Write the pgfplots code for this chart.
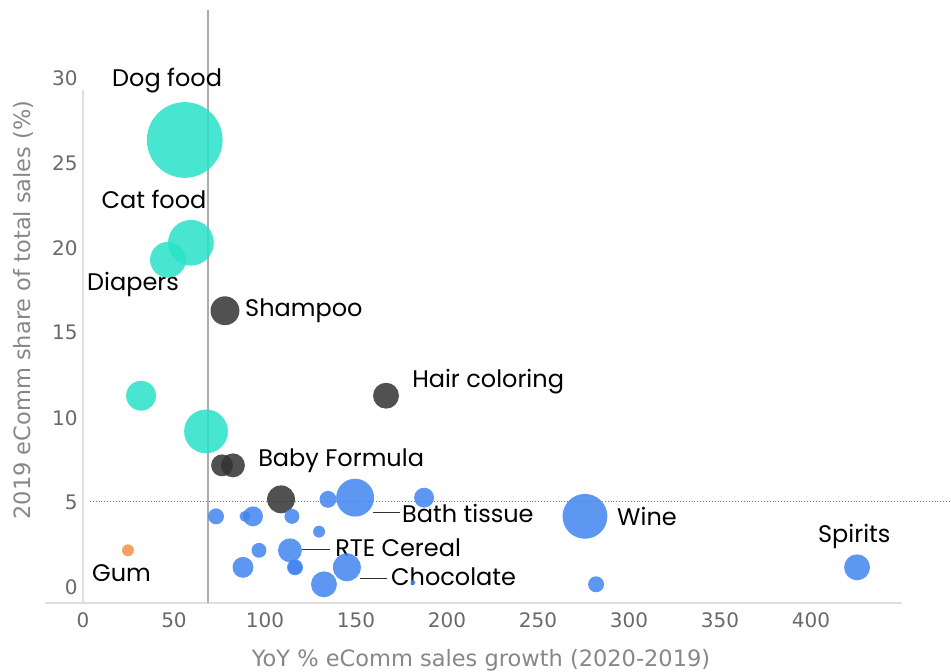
\documentclass[border=0pt]{standalone}
\usepackage{pgfplots}
\pgfplotsset{compat=1.18}
\usepackage{fontspec}
\setmainfont{Poppins}
\newfontfamily\tickfont{DejaVu Sans}

\definecolor{tealc}{RGB}{40,226,200}
\definecolor{bluec}{RGB}{66,133,240}
\definecolor{darkc}{RGB}{50,50,50}
\definecolor{orangec}{RGB}{245,150,80}
\definecolor{tickgray}{RGB}{105,105,105}
\definecolor{labgray}{RGB}{135,135,135}
\definecolor{axgray}{RGB}{222,222,222}

% x, y, bubble radius (bp)
\pgfplotstableread{
x y r
55.9 26.35 38
59.3 20.3 23
46.7 19.3 18
31.9 11.3 15
67.6 9.2 22
}\petfood
\pgfplotstableread{
x y r
78.0 16.3 14.5
166.5 11.3 13
76.4 7.2 11
82.4 7.2 12
108.8 5.2 14
}\beauty
\pgfplotstableread{
x y r
73.1 4.2 8
89.0 4.2 5.5
93.4 4.2 10
114.8 4.2 7.5
134.6 5.2 8.5
149.5 5.3 19
187.4 5.3 10
129.7 3.3 6
96.7 2.2 7.5
113.7 2.2 12
87.9 1.2 10.5
116.5 1.2 8
116.5 1.2 7
145.0 1.2 14
132.4 0.2 13
181.3 0.3 2.5
275.8 4.2 22.5
281.9 0.2 8
425.3 1.2 13
}\grocery
\pgfplotstableread{
x y r
24.7 2.2 6
}\gum

\pgfplotsset{
  bubble/.style 2 args={scatter, only marks, mark=*,
    visualization depends on={\thisrow{r}\as\rad},
    mark options={fill opacity=#2, draw opacity=0},
    scatter/use mapped color={draw=#1, fill=#1, fill opacity=#2, draw opacity=0},
    scatter/@pre marker code/.append style={/tikz/mark size=\rad}},
}

\begin{document}
\begin{tikzpicture}
\useasboundingbox (-83bp,-69bp) rectangle (868bp,603bp);
\begin{axis}[
  at={(0,0)}, anchor=south west,
  scale only axis, width=819bp, height=593bp,
  xmin=0, xmax=450, ymin=-0.9, ymax=34,
  axis line style={draw=none},
  major tick length=0,
  xtick={0,50,...,400}, ytick={0,5,...,30},
  ticklabel style={font=\tickfont\fontsize{20bp}{24bp}\selectfont, text=tickgray},
  /pgf/number format/assume math mode=true,
  xticklabel style={yshift=-6bp},
  yticklabel style={xshift=-2bp},
  clip=false,
]
% frame lines and reference lines
\draw[axgray, line width=1.2bp] (axis cs:-20.9,-0.9) -- (axis cs:450,-0.9);
\draw[axgray, line width=1.2bp] (axis cs:0,-0.9) -- (axis cs:0,29.3);
\draw[gray!65, line width=1.3bp] (axis cs:68.7,-0.9) -- (axis cs:68.7,34);
\draw[gray, line width=0.9bp, dotted] (axis cs:3.8,5.06) -- (axis cs:477,5.06);

\addplot[bubble={tealc}{0.85}] table {\petfood};
\addplot[bubble={darkc}{0.85}] table {\beauty};
\addplot[bubble={bluec}{0.85}] table {\grocery};
\addplot[bubble={orangec}{0.9}] table {\gum};

% leader lines
\draw[darkc, line width=0.9bp] (axis cs:159.3,4.41) -- (axis cs:174.2,4.41);
\draw[darkc, line width=0.9bp] (axis cs:120.3,2.24) -- (axis cs:135.7,2.24);
\draw[darkc, line width=0.9bp] (axis cs:152.2,0.53) -- (axis cs:167,0.53);

% category labels
\begin{scope}[every node/.style={font=\fontsize{24bp}{28bp}\selectfont, text=black, inner sep=0pt}]
\node[anchor=base] at (axis cs:46.2,29.47) {Dog food};
\node[anchor=base] at (axis cs:39.0,22.3) {Cat food};
\node[anchor=base] at (axis cs:27.5,17.5) {Diapers};
\node[anchor=base west] at (axis cs:89,15.94) {Shampoo};
\node[anchor=base west] at (axis cs:180.8,11.8) {Hair coloring};
\node[anchor=base west] at (axis cs:96.2,7.12) {Baby Formula};
\node[anchor=base west] at (axis cs:175.3,3.82) {Bath tissue};
\node[anchor=base west] at (axis cs:138.5,1.82) {RTE Cereal};
\node[anchor=base west] at (axis cs:169.2,0.12) {Chocolate};
\node[anchor=base west] at (axis cs:4.9,0.35) {Gum};
\node[anchor=base west] at (axis cs:293.4,3.65) {Wine};
\node[anchor=base west] at (axis cs:403.8,2.65) {Spirits};
\end{scope}

% axis titles
\node[anchor=base, font=\tickfont\fontsize{22.5bp}{26bp}\selectfont, text=labgray, inner sep=0pt]
  at (axis cs:218.7,-4.65) {YoY \% eComm sales growth (2020-2019)};
\node[anchor=base, rotate=90, font=\tickfont\fontsize{22.5bp}{26bp}\selectfont, text=labgray, inner sep=0pt]
  at (axis cs:-28.6,16.35) {2019 eComm share of total sales (\%)};
\end{axis}
\end{tikzpicture}
\end{document}
